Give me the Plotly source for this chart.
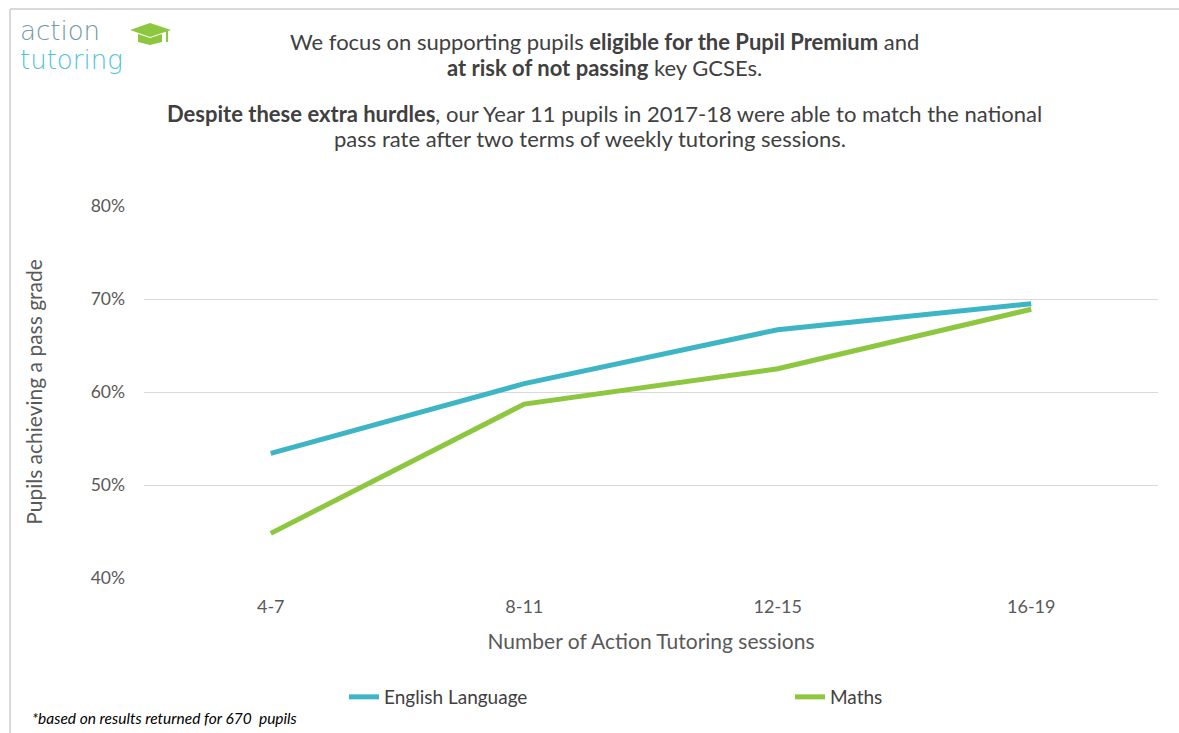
import plotly.graph_objects as go

categories = ["4-7", "8-11", "12-15", "16-19"]
english = [53.4, 60.9, 66.7, 69.5]
maths = [44.8, 58.7, 62.5, 68.9]
y_ticks = [40, 50, 60, 70, 80]
y_tick_labels = ["40%", "50%", "60%", "70%", "80%"]

W, H = 1179, 733
L, R, T, B = 144, 1158, 206, 578
FONT = "Lato"

def px(x):
    return (x - L) / (R - L)

def py(y):
    return (B - y) / (B - T)

fig = go.Figure()
fig.add_trace(go.Scatter(x=categories, y=english, mode="lines", name="English Language",
                         line=dict(color="#3DB5C4", width=5), legend="legend"))
fig.add_trace(go.Scatter(x=categories, y=maths, mode="lines", name="Maths",
                         line=dict(color="#8DC63F", width=5), legend="legend2"))

ann = []
def text(x, y, s, size=22, color="#404040", xanchor="center", italic=False, weight=None, family=FONT):
    f = dict(family=family, size=size, color=color)
    if italic:
        f["style"] = "italic"
    if weight:
        f["weight"] = weight
    ann.append(dict(x=px(x), y=py(y), xref="paper", yref="paper", text=s, showarrow=False,
                    xanchor=xanchor, yanchor="middle", font=f))

text(604, 42, "We focus on supporting pupils <b>eligible for the Pupil Premium</b> and")
text(604, 67, "<b>at risk of not passing</b> key GCSEs.")
text(604, 113, "<b>Despite these extra hurdles</b>, our Year 11 pupils in 2017-18 were able to match the national")
text(590, 139, "pass rate after two terms of weekly tutoring sessions.")
text(30, 718, "*based on results returned for 670  pupils", size=15.5, color="#000000", xanchor="left", italic=True)
# logo
text(18, 31, "action", size=26, color="#6F98A9", xanchor="left", weight=200, family="DejaVu Sans")
text(18, 60, "tutoring", size=26, color="#4EC4D4", xanchor="left", weight=200, family="DejaVu Sans")

shapes = []
# border
shapes.append(dict(type="line", xref="paper", yref="paper", x0=px(10), x1=px(1179), y0=py(9), y1=py(9),
                   line=dict(color="#D9D9D9", width=2)))
shapes.append(dict(type="line", xref="paper", yref="paper", x0=px(10), x1=px(10), y0=py(9), y1=py(733),
                   line=dict(color="#D9D9D9", width=2)))
# mortarboard
def path(pts):
    return "M " + " L ".join(f"{px(a)},{py(b)}" for a, b in pts) + " Z"
shapes.append(dict(type="path", xref="paper", yref="paper",
                   path=path([(130, 30), (150, 23), (171, 30), (150, 37)]),
                   fillcolor="#8DC63F", line=dict(width=0)))
shapes.append(dict(type="path", xref="paper", yref="paper",
                   path=path([(138, 34), (150, 38), (162, 34), (162, 42), (150, 45), (138, 42)]),
                   fillcolor="#8DC63F", line=dict(width=0)))
shapes.append(dict(type="line", xref="paper", yref="paper", x0=px(167), x1=px(167), y0=py(31), y1=py(42),
                   line=dict(color="#8DC63F", width=2)))

legend_font = dict(family=FONT, size=19, color="#404040")
fig.update_layout(
    width=W, height=H,
    margin=dict(l=L, r=W - R, t=T, b=H - B),
    paper_bgcolor="white", plot_bgcolor="white",
    font=dict(family=FONT, color="#595959"),
    annotations=ann, shapes=shapes,
    showlegend=True,
    legend=dict(orientation="h", x=px(344), y=py(697), xanchor="left", yanchor="middle",
                font=legend_font, bgcolor="rgba(0,0,0,0)"),
    legend2=dict(orientation="h", x=px(790), y=py(697), xanchor="left", yanchor="middle",
                 font=legend_font, bgcolor="rgba(0,0,0,0)"),
    xaxis=dict(range=[-0.5, 3.5], showgrid=False, showline=False, ticks="",
               tickfont=dict(family=FONT, size=18, color="#595959"), ticklabelstandoff=16,
               title=dict(text="Number of Action Tutoring sessions", standoff=18,
                          font=dict(family=FONT, size=21, color="#595959"))),
    yaxis=dict(range=[40, 80], tickvals=y_ticks, ticktext=y_tick_labels,
               showgrid=True, gridcolor="#D9D9D9", gridwidth=1, zeroline=False, showline=False,
               tickfont=dict(family=FONT, size=17.5, color="#595959"), ticklabelstandoff=18,
               title=dict(text="Pupils achieving a pass grade", standoff=42,
                          font=dict(family=FONT, size=21, color="#595959"))),
)

fig.write_html("out.html", config={"displayModeBar": False},
               post_script="document.body.style.margin='0px';document.body.style.overflow='hidden';")
